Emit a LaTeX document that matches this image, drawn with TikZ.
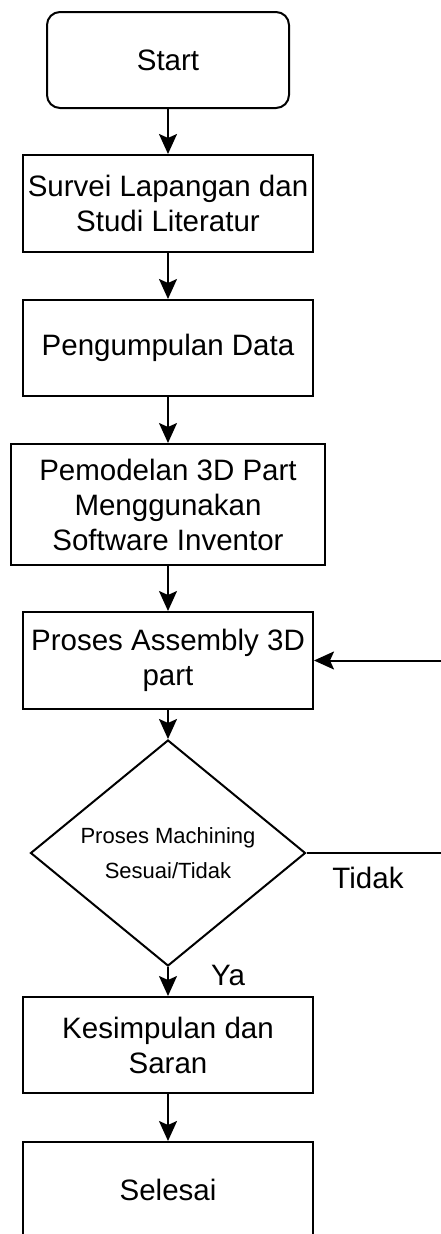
\documentclass[tikz,border=0pt]{standalone}
\usepackage{fontspec}
\setmainfont{Liberation Sans}
\usetikzlibrary{shapes.geometric,arrows.meta}
\begin{document}
\begin{tikzpicture}[x=1pt,y=-1pt,
  box/.style={draw, line width=2pt, minimum width=290pt, minimum height=97pt, inner sep=0pt, align=center, font=\fontsize{29.5}{35}\selectfont},
  arr/.style={line width=2pt, -{Stealth[length=20pt,width=18pt,inset=4pt]}},
  ln/.style={line width=2pt},
  lbl/.style={font=\fontsize{29.5}{35}\selectfont, inner sep=0pt},
  dec/.style={draw, diamond, line width=2pt, minimum width=275pt, minimum height=189pt, inner sep=0pt, align=center, font=\fontsize{22}{35}\selectfont}]
\clip (0,0) rectangle (441,1234);
\node[box, rounded corners=13pt, minimum width=242pt, minimum height=96pt] (start) at (168,60) {Start};
\node[box] (survei) at (168,203.5) {Survei Lapangan dan\\Studi Literatur};
\node[box, minimum height=96pt] (data) at (168,348) {Pengumpulan Data};
\node[box, minimum width=314pt, minimum height=121pt] (model) at (168,504.5) {Pemodelan 3D Part\\Menggunakan\\Software Inventor};
\node[box] (asm) at (168,660.5) {Proses Assembly 3D\\part};
\node[dec] (cek) at (168,853) {Proses Machining\\Sesuai/Tidak};
\node[box, minimum height=96pt] (simp) at (168,1045) {Kesimpulan dan\\Saran};
\node[box, minimum height=96pt] (end) at (168,1190) {Selesai};
\node[lbl] (tidak) at (368,878) {Tidak};
\node[lbl] (ya) at (228,975) {Ya};
\coordinate (r1) at (460,853);
\coordinate (r2) at (460,660.5);
\draw[arr] (start) -- (survei);
\draw[arr] (survei) -- (data);
\draw[arr] (data) -- (model);
\draw[arr] (model) -- (asm);
\draw[arr] (asm) -- (cek);
\draw[arr] (cek) -- (simp);
\draw[arr] (simp) -- (end);
\draw[ln] (cek.east) -- (r1) -- (r2);
\draw[arr] (r2) -- (asm.east);
\end{tikzpicture}
\end{document}
